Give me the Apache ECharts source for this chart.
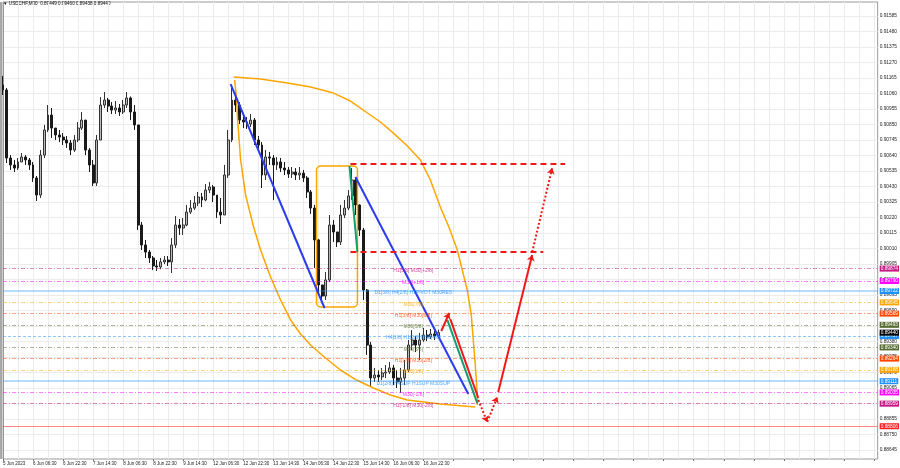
<!DOCTYPE html>
<html><head><meta charset="utf-8">
<script src="https://cdn.jsdelivr.net/npm/echarts@6/dist/echarts.min.js"></script>
<style>html,body{margin:0;padding:0;background:#fff}#c{width:900px;height:468px}</style>
</head><body><div id="c"></div>
<script>
const titleText = '\u25BC USDCHF,M30  0.89449 0.89460 0.89438 0.89440';
const timeTickLabels = ['5 Jun 2023','6 Jun 06:30','6 Jun 22:30','7 Jun 14:30','8 Jun 06:30','8 Jun 22:30','9 Jun 14:30','12 Jun 06:30','12 Jun 22:30','13 Jun 14:30','14 Jun 06:30','14 Jun 22:30','15 Jun 14:30','16 Jun 06:30','16 Jun 22:30'];
const priceTicks = [0.91585,0.91480,0.91375,0.91270,0.91165,0.91060,0.90955,0.90850,0.90745,0.90640,0.90535,0.90430,0.90325,0.90220,0.90115,0.90010,0.89905,0.89800,0.89695,0.89590,0.89485,0.89380,0.89275,0.89170,0.89065,0.88960,0.88855,0.88750,0.88645];

const opens = [0.91118,0.91084,0.90623,0.90576,0.90555,0.90596,0.90630,0.90610,0.90576,0.90488,
 0.90372,0.90643,0.90813,0.90914,0.90826,0.90779,0.90765,0.90745,0.90725,0.90677,
 0.90745,0.90826,0.90880,0.90677,0.90576,0.90454,0.90745,0.90982,0.91016,0.90975,
 0.90948,0.90962,0.90935,0.90982,0.91030,0.90935,0.90847,0.90169,0.90034,0.89986,
 0.89946,0.89892,0.89885,0.89919,0.89932,0.89919,0.90034,0.90169,0.90149,0.90169,
 0.90257,0.90284,0.90318,0.90359,0.90339,0.90406,0.90427,0.90372,0.90257,0.90237,
 0.90508,0.90745,0.91016,0.90982,0.90880,0.90867,0.90853,0.90880,0.90745,0.90711,
 0.90508,0.90630,0.90623,0.90576,0.90596,0.90555,0.90542,0.90515,0.90528,0.90508,
 0.90521,0.90488,0.90393,0.90284,0.90068,0.89763,0.89688,0.89797,0.90169,0.90122,
 0.90054,0.90237,0.90284,0.90366,0.90474,0.90305,0.90135,0.89729,0.89356,0.89133,
 0.89153,0.89140,0.89167,0.89173,0.89201,0.89133,0.89106,0.89133,0.89187,0.89356,
 0.89390,0.89356,0.89390,0.89424,0.89411,0.89431,0.89417];
const closes = [0.91084,0.90623,0.90576,0.90555,0.90596,0.90630,0.90610,0.90576,0.90488,0.90372,
 0.90643,0.90813,0.90914,0.90826,0.90779,0.90765,0.90745,0.90725,0.90677,0.90745,
 0.90826,0.90880,0.90677,0.90576,0.90454,0.90745,0.90982,0.91016,0.90975,0.90948,
 0.90962,0.90935,0.90982,0.91030,0.90935,0.90847,0.90169,0.90034,0.89986,0.89946,
 0.89892,0.89885,0.89919,0.89932,0.89919,0.90034,0.90169,0.90149,0.90169,0.90257,
 0.90284,0.90318,0.90359,0.90339,0.90406,0.90427,0.90372,0.90257,0.90237,0.90508,
 0.90745,0.91016,0.90982,0.90880,0.90867,0.90853,0.90880,0.90745,0.90711,0.90508,
 0.90630,0.90623,0.90576,0.90596,0.90555,0.90542,0.90515,0.90528,0.90508,0.90521,
 0.90488,0.90393,0.90284,0.90068,0.89763,0.89688,0.89797,0.90169,0.90122,0.90054,
 0.90237,0.90284,0.90366,0.90474,0.90305,0.90135,0.89729,0.89356,0.89133,0.89153,
 0.89140,0.89167,0.89173,0.89201,0.89133,0.89106,0.89133,0.89187,0.89356,0.89390,
 0.89356,0.89390,0.89424,0.89411,0.89431,0.89417,0.89440];
const lows = [0.91050,0.90589,0.90542,0.90528,0.90542,0.90596,0.90576,0.90542,0.90461,0.90332,
 0.90352,0.90623,0.90799,0.90759,0.90745,0.90731,0.90711,0.90691,0.90643,0.90664,
 0.90731,0.90813,0.90643,0.90528,0.90433,0.90433,0.90745,0.90962,0.90935,0.90921,
 0.90921,0.90908,0.90921,0.90962,0.90880,0.90813,0.90135,0.90000,0.89946,0.89912,
 0.89864,0.89858,0.89870,0.89905,0.89892,0.89844,0.90013,0.90102,0.90102,0.90160,
 0.90244,0.90271,0.90298,0.90291,0.90330,0.90386,0.90325,0.90217,0.90176,0.90237,
 0.90488,0.90731,0.90935,0.90853,0.90826,0.90820,0.90833,0.90711,0.90677,0.90420,
 0.90474,0.90576,0.90339,0.90542,0.90528,0.90508,0.90488,0.90488,0.90474,0.90474,
 0.90461,0.90352,0.90244,0.89878,0.89702,0.89654,0.89661,0.89783,0.90054,0.90020,
 0.90034,0.90217,0.90270,0.90339,0.90237,0.90095,0.89661,0.89289,0.89079,0.89106,
 0.89106,0.89119,0.89133,0.89160,0.89085,0.89065,0.89031,0.89085,0.89173,0.89322,
 0.89309,0.89255,0.89377,0.89384,0.89397,0.89390,0.89411];
const highs = [0.91179,0.91097,0.90643,0.90610,0.90623,0.90657,0.90643,0.90623,0.90596,0.90501,
 0.90677,0.90847,0.90982,0.90962,0.90826,0.90813,0.90792,0.90772,0.90745,0.90779,
 0.90867,0.90935,0.90880,0.90691,0.90610,0.90779,0.91036,0.91070,0.91030,0.91002,
 0.91009,0.90989,0.91016,0.91070,0.91040,0.90982,0.90847,0.90190,0.90068,0.90000,
 0.89959,0.89932,0.89946,0.89959,0.89959,0.90081,0.90230,0.90210,0.90217,0.90305,
 0.90339,0.90366,0.90393,0.90386,0.90447,0.90461,0.90440,0.90372,0.90352,0.90576,
 0.90813,0.91097,0.91111,0.91002,0.90908,0.90901,0.90921,0.90894,0.90772,0.90731,
 0.90677,0.90664,0.90643,0.90630,0.90623,0.90596,0.90562,0.90562,0.90555,0.90562,
 0.90542,0.90501,0.90406,0.90305,0.90075,0.89763,0.89851,0.90237,0.90203,0.90122,
 0.90305,0.90339,0.90406,0.90555,0.90488,0.90310,0.90149,0.89735,0.89377,0.89201,
 0.89187,0.89201,0.89221,0.89241,0.89221,0.89187,0.89201,0.89255,0.89390,0.89458,
 0.89417,0.89438,0.89472,0.89458,0.89465,0.89451,0.89460];

const levelPrices = [0.89874,0.89790,0.89722,0.89645,0.89569,0.89493,0.89417,0.89340,0.89264,0.89188,0.89111,0.89035,0.88959];
const levelNames = ['H1[5/8] M30[+2/8]','M30[+1/8]','D1[3/8] H4[2/8] H1PIVOT M30RES','M30[7/8]','H1[3/8] M30[6/8]','M30[5/8]','H4[1/8] H1[2/8] M30[4/8]','M30[3/8]','H1[1/8] M30[2/8]','M30[1/8]','D1[2/8] H4SUP H1SUP M30SUP','M30[-1/8]','H1[-1/8] M30[-2/8]'];
const bidPrice = 0.89440;
const stopPrice = 0.88806;

// hand drawn objects, [bar, price]
const outerArc = [[61.44,0.91172],[68.62,0.91158],[75.80,0.91131],[81.92,0.91104],[88.04,0.91063],[92.56,0.91009],[97.08,0.90928],[100.54,0.90867],[104.00,0.90792],[107.72,0.90704],[111.18,0.90610],[113.84,0.90474],[116.50,0.90291],[118.89,0.90149],[121.02,0.90000],[122.35,0.89864],[123.68,0.89729],[124.74,0.89560],[125.28,0.89390],[125.81,0.89221],[126.34,0.89031],[126.34,0.88950]];
const innerArc = [[61.71,0.91152],[62.24,0.91016],[62.51,0.90880],[63.30,0.90610],[64.63,0.90372],[66.76,0.90156],[68.62,0.90000],[71.28,0.89817],[73.94,0.89661],[76.60,0.89526],[79.26,0.89431],[81.92,0.89356],[85.91,0.89268],[89.90,0.89187],[94.16,0.89119],[98.68,0.89065],[103.20,0.89018],[107.72,0.88984],[116.50,0.88957],[125.81,0.88936]];
const blueLines = [[[60.64,0.91124],[85.65,0.89607]],[[93.89,0.90494],[123.95,0.89024]]];
const greenLines = [[[92.30,0.90569],[94.42,0.89986]],[[118.36,0.89526],[126.34,0.88963]]];
const redSolid = [[[119.16,0.89532],[126.61,0.88997]]];
const redArrows = [[[116.76,0.89451],[118.89,0.89573]],[[131.93,0.89038],[140.97,0.89966]]];
const redDottedArrows = [[[126.61,0.88984],[129.00,0.88835]],[[129.00,0.88835],[131.66,0.89004]],[[140.97,0.89986],[146.29,0.90555]]];
const redDashed = [[[92.56,0.90582],[149.75,0.90582]],[[92.56,0.89986],[143.90,0.89986]]];
const boxRect = [83.52,0.90569,94.42,0.89614];

const N = 234;
const levelColors = ['#c71585','#ff00ff','#1e90ff','#ffa500','#ff4500','#556b2f','#1e90ff','#556b2f','#ff4500','#ffa500','#1e90ff','#ff00ff','#c71585'];
const levelTypes = ['dd','dd','solid','dd','dd','dd','dash','dd','dd','dd','solid','dd','dd'];
const FONT = 'Liberation Sans';

function rgba(hex,a){const n=parseInt(hex.slice(1),16);return 'rgba('+((n>>16)&255)+','+((n>>8)&255)+','+(n&255)+','+a+')';}

const chart = echarts.init(document.getElementById('c'), null, {renderer:'canvas'});
const cats = Array.from({length:N},(_,i)=>String(i));
const candleData = opens.map((o,i)=>[o,closes[i],lows[i],highs[i]]);

function boxLabel(p,color){
  return {show:true,position:'end',distance:2,formatter:p.toFixed(5),backgroundColor:color,color:'#fff',opacity:1,
    fontSize:4.8,fontFamily:FONT,padding:[1,1,0,1]};
}
const levelLines = levelPrices.map((p,i)=>{
  const t = levelTypes[i];
  let ls;
  if(t==='solid') ls={color:rgba(levelColors[i],0.32),width:2,type:'solid'};
  else if(t==='dash') ls={color:rgba(levelColors[i],0.5),width:1,type:[3,2]};
  else ls={color:rgba(levelColors[i],0.5),width:1,type:[4,2,1,2]};
  return {yAxis:p,lineStyle:ls,label:boxLabel(p,levelColors[i])};
});
levelLines.push({yAxis:bidPrice,lineStyle:{color:'rgba(0,0,0,0)',width:1},label:boxLabel(bidPrice,'#000')});
levelLines.push({yAxis:stopPrice,lineStyle:{color:'rgba(255,0,0,0.45)',width:1,type:'solid'},label:boxLabel(stopPrice,'#ff2020')});

function seg(pair,style,arrow){
  return [{coord:pair[0],symbol:'none'},{coord:pair[1],symbol:arrow?'arrow':'none',symbolSize:arrow?6:0,lineStyle:style}];
}
const segs = [];
blueLines.forEach(s=>segs.push(seg(s,{color:'#2b3cf0',width:2,type:'solid'},false)));
greenLines.forEach(s=>segs.push(seg(s,{color:'#12a070',width:2,type:'solid'},false)));
redSolid.forEach(s=>segs.push(seg(s,{color:'#f01818',width:2,type:'solid'},false)));
redArrows.forEach(s=>segs.push(seg(s,{color:'#f01818',width:2,type:'solid'},true)));
redDottedArrows.forEach(s=>segs.push(seg(s,{color:'#f01818',width:2,type:[2,2]},true)));
redDashed.forEach(s=>segs.push(seg(s,{color:'#f01818',width:2,type:[6,4]},false)));

const option = {
  animation:false,
  backgroundColor:'#fff',
  grid:{left:2,right:22,top:2,bottom:9,show:true,borderColor:'#9a9a9a',borderWidth:1},
  xAxis:[{
    type:'category',data:cats,boundaryGap:false,
    axisLine:{show:false},
    axisTick:{show:true,interval:7,length:2,lineStyle:{color:'#777'}},
    axisLabel:{interval:7,align:'left',margin:2,fontSize:4.5,fontFamily:FONT,color:'#222',
      formatter:(v,idx)=>{const k=idx/8;return (Number.isInteger(k)&&timeTickLabels[k])?timeTickLabels[k]:'';}},
    splitLine:{show:true,interval:3,lineStyle:{color:'#ececec',width:1}}
  },{
    type:'value',min:0,max:N-1,show:false
  }],
  yAxis:{
    type:'value',position:'right',min:0.88584,max:0.91680,scale:true,
    axisLine:{show:true,lineStyle:{color:'#9a9a9a'}},
    axisTick:{show:false,customValues:priceTicks},
    axisLabel:{customValues:priceTicks,margin:2,fontSize:4.8,fontFamily:FONT,color:'#222',formatter:v=>v.toFixed(5)},
    splitLine:{show:true,lineStyle:{color:'#ececec',width:1}}
  },
  graphic:[
    {type:'text',left:3,top:1.5,style:{text:titleText,font:'4.6px '+FONT,fill:'#111'}},
    {type:'rect',shape:{x:0,y:2,width:2,height:457},style:{fill:'#a8a8a8'}}
  ],
  series:[
    {type:'line',xAxisIndex:1,data:[],silent:true,
      markLine:{silent:true,precision:5,symbol:['none','none'],data:levelLines},z:2},
    {type:'candlestick',xAxisIndex:0,data:candleData,barWidth:2.4,z:3,
      itemStyle:{color:'#b8b8b8',color0:'#1a1a1a',borderColor:'#333333',borderColor0:'#1a1a1a',borderWidth:1}},
    {type:'scatter',xAxisIndex:1,symbol:'circle',symbolSize:1,itemStyle:{color:'rgba(0,0,0,0)'},silent:true,
      data:levelPrices.map((p,i)=>({value:[109.3,p],label:{show:true,position:'inside',offset:[0,2],formatter:levelNames[i],color:levelColors[i],fontSize:5,fontFamily:FONT}})),z:5},
    {type:'line',xAxisIndex:1,data:outerArc,smooth:false,showSymbol:false,lineStyle:{color:'#ffa500',width:1.5},silent:true,
      markLine:{silent:true,precision:5,symbol:['none','none'],label:{show:false},data:segs},z:4},
    {type:'line',xAxisIndex:1,data:innerArc,smooth:false,showSymbol:false,lineStyle:{color:'#ffa500',width:1.5},silent:true,z:4},
    {type:'custom',xAxisIndex:1,silent:true,z:4,data:[boxRect],encode:{x:[0,2],y:[1,3]},
      renderItem:(params,api)=>{
        const a=api.coord([api.value(0),api.value(1)]);const b=api.coord([api.value(2),api.value(3)]);
        return {type:'rect',shape:{x:a[0],y:a[1],width:b[0]-a[0],height:b[1]-a[1],r:4},style:{fill:'none',stroke:'#ffa500',lineWidth:1.5}};
      }}
  ]
};
chart.setOption(option);
</script></body></html>
